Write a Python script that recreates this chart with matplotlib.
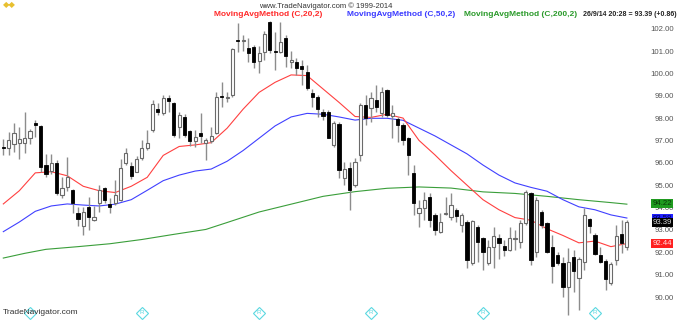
import matplotlib
matplotlib.use("Agg")
import matplotlib.pyplot as plt
from matplotlib.transforms import blended_transform_factory

# daily OHLC (oldest first)
opens = [96.75, 96.70, 96.89, 96.92, 96.92, 97.14, 97.82, 97.70, 95.95, 95.70,
         96.03, 94.61, 94.95, 94.83, 93.82, 93.22, 94.06, 93.49, 94.24, 94.91,
         94.21, 94.24, 94.38, 96.03, 95.91, 95.65, 96.25, 96.70, 97.52, 98.44,
         98.26, 98.93, 98.71, 97.67, 98.08, 97.49, 97.02, 97.37, 96.92, 97.02,
         97.37, 99.05, 98.93, 99.08, 101.53, 101.50, 101.17, 101.22, 100.60, 101.00,
         102.36, 101.01, 101.02, 101.62, 100.54, 100.57, 100.40, 100.13, 99.19, 98.98,
         98.30, 98.34, 96.85, 97.79, 95.35, 95.80, 95.06, 96.40, 98.64, 98.49,
         98.86, 98.26, 99.31, 98.14, 97.99, 97.74, 97.14, 95.58, 93.79, 94.01,
         94.53, 93.71, 92.97, 93.76, 93.64, 93.94, 93.27, 93.42, 91.58, 93.19,
         92.67, 91.58, 92.30, 92.67, 92.33, 92.15, 92.65, 92.52, 93.34, 94.68,
         92.07, 93.86, 93.37, 92.27, 91.92, 91.58, 90.51, 91.85, 90.92, 91.63,
         93.52, 92.82, 91.92, 91.67, 90.66, 91.70, 92.86, 92.30]
highs = [97.10, 97.44, 97.84, 97.67, 98.34, 97.55, 97.96, 97.75, 96.44, 96.44,
         96.17, 95.43, 96.32, 94.86, 94.09, 94.09, 94.53, 94.12, 95.06, 94.95,
         94.46, 95.28, 96.20, 96.73, 96.10, 96.37, 97.07, 97.52, 98.86, 98.71,
         99.08, 99.08, 98.75, 98.31, 98.23, 97.52, 97.52, 98.26, 97.14, 97.67,
         99.20, 99.68, 99.20, 101.17, 102.29, 101.77, 101.62, 101.32, 101.27, 101.95,
         102.40, 101.92, 102.36, 101.77, 101.05, 100.72, 100.65, 100.43, 99.35, 99.08,
         98.45, 98.41, 97.92, 97.89, 96.10, 96.10, 96.25, 98.71, 99.08, 99.23,
         99.53, 99.46, 99.34, 98.64, 98.08, 97.81, 97.22, 95.95, 94.38, 94.76,
         94.68, 93.79, 93.79, 94.53, 94.68, 94.01, 93.79, 93.49, 93.49, 93.27,
         92.74, 92.59, 93.19, 92.85, 92.60, 93.16, 93.04, 93.49, 94.83, 94.76,
         94.53, 93.94, 93.42, 92.82, 92.07, 91.85, 92.22, 92.15, 91.85, 94.01,
         93.56, 92.89, 92.30, 91.77, 91.63, 93.27, 93.49, 93.49]
lows = [96.40, 96.40, 96.55, 96.20, 96.47, 96.90, 97.22, 95.65, 95.43, 95.55,
        94.61, 94.46, 94.80, 93.79, 93.22, 92.82, 93.04, 93.46, 93.86, 94.24,
        93.79, 94.16, 94.34, 95.95, 95.32, 95.62, 96.17, 96.62, 97.44, 98.19,
        98.19, 98.34, 97.22, 97.14, 97.22, 96.82, 96.77, 96.92, 96.17, 96.92,
        97.32, 98.56, 98.78, 99.00, 101.02, 101.05, 100.57, 100.30, 100.05, 100.65,
        100.95, 100.20, 100.95, 100.35, 100.28, 99.98, 99.53, 99.31, 98.56, 98.11,
        97.95, 97.14, 96.77, 95.35, 95.06, 93.94, 94.98, 96.14, 97.74, 97.89,
        98.34, 98.11, 98.08, 97.14, 97.00, 96.85, 95.50, 93.71, 93.19, 93.49,
        93.19, 92.82, 92.89, 93.71, 93.49, 93.42, 92.97, 91.33, 91.48, 91.63,
        91.25, 91.48, 91.33, 91.77, 91.88, 92.12, 92.15, 92.22, 93.27, 91.48,
        91.85, 93.12, 92.00, 90.66, 91.48, 90.06, 89.24, 90.28, 89.46, 91.25,
        92.89, 91.92, 91.55, 90.36, 90.58, 91.48, 92.00, 92.15]
closes = [96.73, 97.07, 97.37, 97.10, 97.14, 97.47, 97.76, 95.85, 95.55, 96.05,
          94.68, 94.91, 95.43, 94.27, 93.52, 93.86, 93.64, 93.64, 94.83, 94.38,
          94.06, 94.61, 95.80, 96.47, 95.47, 96.22, 96.70, 96.95, 98.67, 98.34,
          98.93, 98.81, 97.29, 98.19, 97.29, 97.02, 97.22, 97.25, 97.07, 97.25,
          98.98, 98.98, 99.00, 101.13, 101.48, 101.52, 100.97, 100.57, 100.95, 101.80,
          101.08, 100.99, 101.44, 100.84, 100.65, 100.28, 100.23, 99.38, 99.01, 98.44,
          98.15, 97.17, 97.81, 95.73, 95.77, 94.83, 96.10, 98.64, 98.04, 98.96,
          98.56, 99.23, 98.19, 98.26, 97.74, 97.07, 96.40, 94.27, 94.01, 94.38,
          93.49, 93.04, 93.42, 93.79, 94.16, 93.67, 93.71, 91.70, 93.46, 92.49,
          92.07, 92.30, 92.77, 92.45, 92.15, 92.67, 92.68, 93.34, 94.76, 91.70,
          94.38, 93.27, 92.07, 91.43, 91.55, 90.51, 91.63, 91.22, 91.77, 93.71,
          93.22, 91.97, 91.63, 90.84, 91.52, 92.77, 92.48, 93.39]

# moving averages, every 3 bars
ma_bars = list(range(0, 118, 3))
ma20 = [94.21, 94.80, 95.60, 95.65, 95.47, 95.00, 94.80, 94.72, 95.00, 95.40,
        96.38, 96.78, 96.85, 96.95, 97.60, 98.45, 99.20, 99.65, 99.98, 99.95,
        99.35, 98.75, 98.12, 98.08, 98.22, 98.05, 97.05, 96.40, 95.70, 95.05,
        94.40, 93.95, 93.60, 93.48, 93.10, 92.80, 92.47, 92.55, 92.30, 92.44]
ma50 = [92.97, 93.40, 93.88, 94.12, 94.21, 94.16, 94.12, 94.20, 94.40, 94.82,
        95.25, 95.50, 95.68, 95.77, 96.12, 96.60, 97.15, 97.70, 98.10, 98.26,
        98.22, 98.10, 97.96, 98.04, 98.04, 97.95, 97.60, 97.25, 96.85, 96.45,
        95.95, 95.50, 95.15, 94.95, 94.78, 94.40, 94.08, 93.95, 93.72, 93.58]
ma200_bars = [0, 4, 8, 14, 20, 26, 32, 38, 42, 48, 54, 60, 66, 72, 78, 84, 90,
              96, 102, 108, 114, 117]
ma200 = [91.79, 92.00, 92.18, 92.30, 92.43, 92.62, 92.85, 93.07, 93.38, 93.85,
         94.20, 94.55, 94.76, 94.91, 94.97, 94.92, 94.75, 94.68, 94.55, 94.40,
         94.27, 94.20]

price_ticks = [90, 91, 92, 93, 94, 95, 96, 97, 98, 99, 100, 101, 102]
roll_bars = [5, 26, 48, 69, 90, 111]

last_labels = [("94.22", 94.22, "#1f9a1f", "#0a3a0a"),
               ("93.58", 93.58, "#2020ff", "#000050"),
               ("93.39", 93.39, "black", "#d8d8d8"),
               ("92.44", 92.44, "#ff2020", "#ffe0e0")]

plt.rcParams['font.family'] = ['Liberation Sans', 'DejaVu Sans']

W, H = 685, 320
fig = plt.figure(figsize=(W / 100, H / 100), dpi=100)
ax = fig.add_axes([0, 0, 640 / W, 1])
ax.set_axis_off()
ax.set_xlim(-0.62, 119.46)
ax.set_ylim(89.02, 103.33)

n = len(closes)
bars = range(n)
ax.vlines(bars, lows, highs, color="#8c8c8c", lw=1.0, zorder=2)
for i in bars:
    o, c = opens[i], closes[i]
    bottom = min(o, c)
    h = max(abs(c - o), 0.04)
    if c >= o:
        ax.bar(i, h, bottom=bottom, width=0.6, facecolor="white",
               edgecolor="#6a6a6a", lw=0.8, zorder=3)
    else:
        ax.bar(i, h, bottom=bottom, width=0.6, facecolor="black",
               edgecolor="black", lw=0.6, zorder=3)

ax.plot(ma200_bars, ma200, color="#3a9e3a", lw=0.8, zorder=1)
ax.plot(ma_bars, ma50, color="#4040ff", lw=0.8, zorder=1)
ax.plot(ma_bars, ma20, color="#ff4040", lw=0.8, zorder=1)

# price scale on the right
trans = ax.get_yaxis_transform()
for p in price_ticks:
    ax.text(674 / 640, p, f"{p:.2f}", transform=trans, ha="right", va="center",
            fontsize=5.6, color="#555555", clip_on=False)
for txt, p, bg, fg in last_labels:
    ax.text(672 / 640, p, txt, transform=trans, ha="right", va="center",
            fontsize=5.6, color=fg, clip_on=False,
            bbox=dict(boxstyle="square,pad=0.12", fc=bg, ec="none"))

# rollover markers
mark_tr = blended_transform_factory(ax.transData, fig.transFigure)
for b in roll_bars:
    ax.plot(b, 1 - 313 / H, marker="D", ms=6, mfc="none", mec="#5ad8e0",
            mew=0.8, transform=mark_tr, clip_on=False)
    ax.text(b, 1 - 313 / H, "R", transform=mark_tr, ha="center", va="center",
            fontsize=4.5, color="#5ad8e0", clip_on=False)

# header
fig.text(326 / W, 1 - 6.5 / H, "www.TradeNavigator.com \u00a9 1999-2014",
         ha="center", va="center", fontsize=5.5, color="#333333")
hy = 1 - 14.5 / H
fig.text(214 / W, hy, "MovingAvgMethod (C,20,2)", ha="left", va="center",
         fontsize=6.0, color="#ff2a2a", fontweight="bold")
fig.text(347 / W, hy, "MovingAvgMethod (C,50,2)", ha="left", va="center",
         fontsize=6.0, color="#3a3aff", fontweight="bold")
fig.text(464 / W, hy, "MovingAvgMethod (C,200,2)", ha="left", va="center",
         fontsize=6.0, color="#2a9a2a", fontweight="bold")
fig.text(583 / W, hy, "26/9/14 20:28 = 93.39 (+0.86)", ha="left", va="center",
         fontsize=5.0, color="#222222", fontweight="bold")
fig.text(3 / W, 1 - 313 / H, "TradeNavigator.com", ha="left", va="center",
         fontsize=6.0, color="#333333")

# small gold logo, top left
fig.text(9 / W, 1 - 6 / H, "\u25c6\u25c6", ha="center", va="center",
         fontsize=6, color="#e8c030")

fig.savefig("out.png", dpi=100)
